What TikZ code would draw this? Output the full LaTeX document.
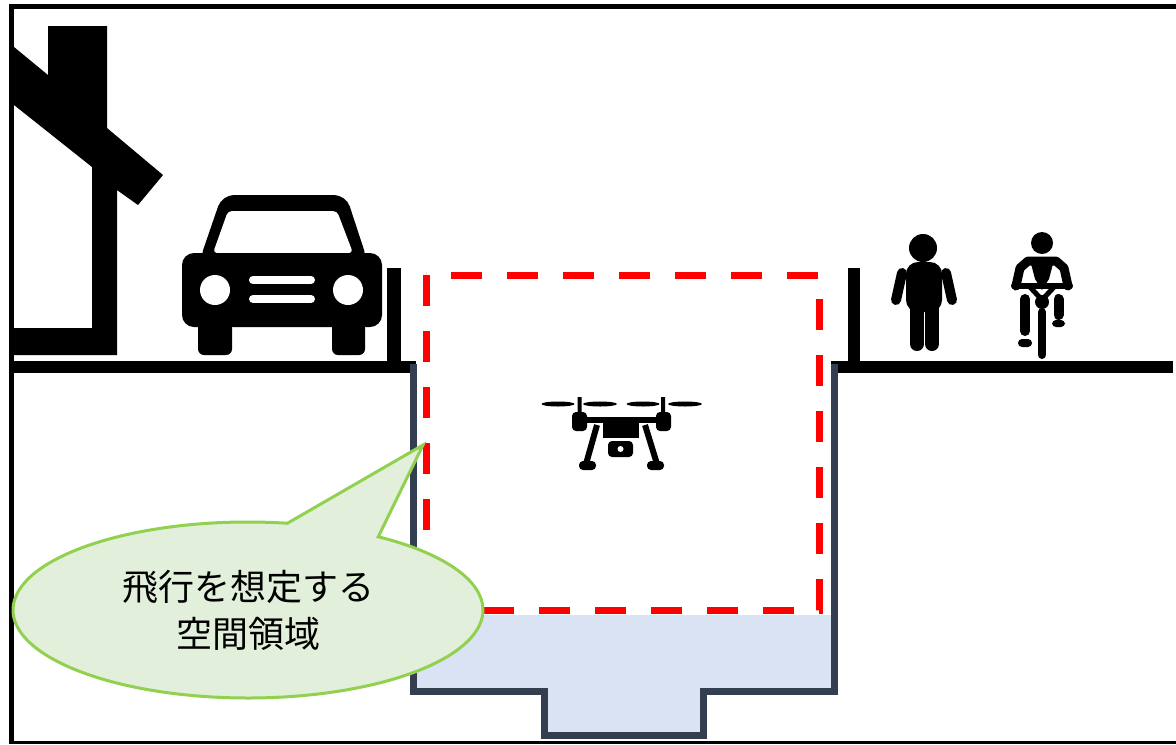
\documentclass[tikz,border=0pt]{standalone}
\usepackage{fontspec}
\newfontfamily\jpfont{Noto Sans CJK JP}
\usepackage{xcolor}
\usepackage{tikz}
\usetikzlibrary{shapes.callouts, positioning}

\definecolor{slate}{HTML}{333F50}
\definecolor{water}{HTML}{DAE3F3}
\definecolor{bubblefill}{HTML}{E2EFDA}
\definecolor{bubbleline}{HTML}{92D050}

\begin{document}
\begin{tikzpicture}[x=0.5pt, y=-0.5pt,
  icon/.style={fill=black},
  ground/.style={line width=6pt},
  channel/.style={draw=slate, line width=3.5pt, line join=miter},
  flyzone/.style={draw=red, line width=3.5pt, dash pattern=on 15.5pt off 12.5pt},
  bubble/.style={ellipse callout, draw=bubbleline, fill=bubblefill, line width=1.5pt,
    minimum width=235pt, minimum height=88pt, inner sep=0pt, align=center,
    font=\jpfont\fontsize{18}{23.5}\selectfont}]
\useasboundingbox (0,0) rectangle (1176,744);

% frame (open on the right)
\draw[line width=2.5pt] (11.5,744) -- (11.5,6) -- (1176,6);
\draw[line width=1.5pt] (11.5,742.5) -- (1176,742.5);

% house
\fill[icon] (14,47) -- (48,75) -- (48,26) -- (107,26) -- (107,128) -- (163,175)
  -- (138,205) -- (117,190) -- (117,355) -- (14,355) -- (14,328) -- (92,328)
  -- (92,167) -- (14,105) -- cycle;

% car
\fill[icon, rounded corners=6pt] (199,262) -- (222,195) -- (346,195) -- (368,262) -- cycle;
\fill[white, rounded corners=2pt] (213,253) -- (228,211) -- (337,211) -- (353,253) -- cycle;
\fill[icon, rounded corners=6pt] (182,253) rectangle (382,327);
\fill[white] (215,290) circle (15) (348,290) circle (15);
\draw[white, line width=4pt, line cap=round] (253,280) -- (311,280) (253,299) -- (311,299);
\fill[icon, rounded corners=3pt] (198,322) rectangle (232,355);
\fill[icon, rounded corners=3pt] (332,322) rectangle (365,355);

% water in the channel
\fill[water] (413,615) -- (413,691) -- (544,691) -- (544,735) -- (703,735)
  -- (703,691) -- (834,691) -- (834,615) -- cycle;

% ground and fences
\draw[ground] (14,367) -- (416,367);
\draw[ground] (831,367) -- (1173,367);
\draw[line width=7pt] (394,268) -- (394,367);
\draw[line width=6pt] (854,268) -- (854,367);

% channel walls
\draw[channel] (413,364) -- (413,691) -- (544,691) -- (544,735) -- (703,735)
  -- (703,691) -- (834,691) -- (834,364);

% flight area
\draw[flyzone] (426,275) rectangle (819,610);

% drone
\fill[icon] (558,404) ellipse (16.5 and 2.5) (600,404) ellipse (17 and 2.5)
  (643,404) ellipse (16.5 and 2.5) (685,404) ellipse (17 and 2.5);
\fill[icon] (577.5,397) rectangle (581.5,415) (661,397) rectangle (665,415);
\fill[icon, rounded corners=2pt] (572,412) rectangle (587,431) (656,412) rectangle (671,431);
\fill[icon] (575,417) rectangle (668,423);
\fill[icon] (603,421) rectangle (639,438);
\draw[line width=3pt] (597,425) -- (586,464) (645,425) -- (657,464);
\fill[icon, rounded corners=2pt] (579,461) rectangle (596,470) (647,461) rectangle (664,470);
\fill[icon, rounded corners=2pt] (608,441) rectangle (633,457);
\fill[white] (620.5,449) circle (3);

% pedestrian
\fill[icon] (923,248) circle (14);
\fill[icon, rounded corners=6pt] (906,262) rectangle (942,312);
\draw[line width=5pt, line cap=round] (902,273) -- (896,300) (946,273) -- (952,300);
\draw[line width=7pt, line cap=round] (917,305) -- (917,344) (932,305) -- (932,344);

% cyclist
\fill[icon] (1042,243) circle (11);
\draw[line width=4.5pt, line cap=round, line join=round] (1016,286) -- (1020,268)
  -- (1028,261) -- (1056,261) -- (1064,268) -- (1068,286);
\fill[icon] (1030,260) -- (1054,260) -- (1049,279) -- (1042,290) -- (1035,279) -- cycle;
\draw[line width=3pt, line cap=round] (1014,286) -- (1070,286);
\draw[line width=2.5pt] (1030,287) -- (1042,300) -- (1054,287);
\fill[icon] (1042,302) circle (7);
\draw[line width=4pt, line cap=round] (1042,312) -- (1042,355);
\draw[line width=5pt, line cap=round] (1025,299) -- (1025,331) (1058.5,299) -- (1058.5,315);
\fill[icon, rounded corners=2pt] (1018,339) rectangle (1032,347) (1052,320) rectangle (1065,327);

% callout
\coordinate (tip) at (423,445);
\node[bubble, callout absolute pointer={(tip)}, callout pointer arc=24] (label)
  at (248,610) {飛行を想定する\\空間領域};
\end{tikzpicture}
\end{document}
